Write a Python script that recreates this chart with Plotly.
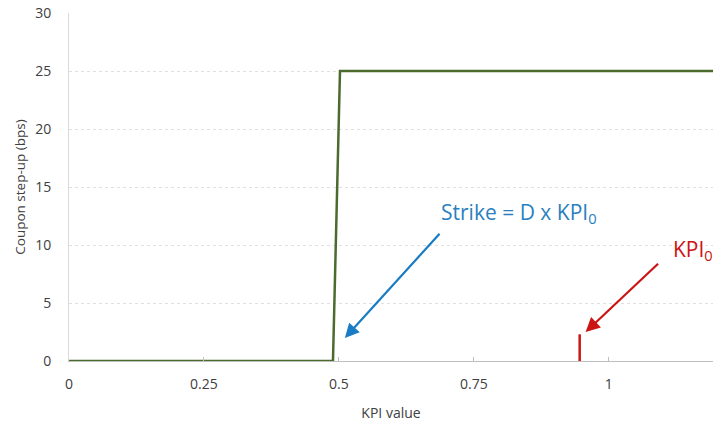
import plotly.graph_objects as go

# Data
step_x = [0, 0.489, 0.502, 1.2]
step_y = [0, 0, 25, 25]
kpi0_x = [0.946, 0.946]
kpi0_y = [0, 2.3]
x_ticks = [0, 0.25, 0.5, 0.75, 1]
x_tick_labels = ["0", "0.25", "0.5", "0.75", "1"]
y_ticks = [0, 5, 10, 15, 20, 25, 30]

FONT = "Open Sans"
fig = go.Figure()
fig.add_trace(go.Scatter(x=step_x, y=step_y, mode="lines",
                         line=dict(color="#4b6b2e", width=2.5), cliponaxis=False,
                         showlegend=False, hoverinfo="skip"))
fig.add_trace(go.Scatter(x=kpi0_x, y=kpi0_y, mode="lines",
                         line=dict(color="#cc1414", width=2.5),
                         showlegend=False, hoverinfo="skip"))

# arrows
fig.add_annotation(x=0.511, y=1.98, ax=0.689, ay=11.1, xref="x", yref="y",
                   axref="x", ayref="y", showarrow=True, arrowhead=2,
                   arrowsize=1.3, arrowwidth=2.2, arrowcolor="#1a7cc4", text="")
fig.add_annotation(x=0.957, y=2.5, ax=1.094, ay=8.5, xref="x", yref="y",
                   axref="x", ayref="y", showarrow=True, arrowhead=2,
                   arrowsize=1.3, arrowwidth=2.2, arrowcolor="#cc1414", text="")
fig.add_annotation(x=0.685, y=12.75, xref="x", yref="y", xanchor="left", yanchor="middle",
                   showarrow=False, text="Strike = D x KPI<sub>0</sub>",
                   font=dict(family=FONT, size=21, color="#2a7fc0"))
fig.add_annotation(x=1.115, y=9.6, xref="x", yref="y", xanchor="left", yanchor="middle",
                   showarrow=False, text="KPI<sub>0</sub>",
                   font=dict(family=FONT, size=21, color="#cc1414"))

fig.update_layout(
    width=713, height=422,
    margin=dict(l=69, r=0, t=13, b=61),
    paper_bgcolor="white", plot_bgcolor="white",
    font=dict(family=FONT, size=14, color="#404040"),
    showlegend=False,
)
fig.update_xaxes(range=[0, 1.193], tickvals=x_ticks, ticktext=x_tick_labels,
                 showgrid=False, zeroline=False, showline=True, linecolor="#bfbfbf",
                 linewidth=1, ticks="inside", ticklen=4, tickcolor="#bfbfbf",
                 ticklabelstandoff=10,
                 title=dict(text="KPI value", font=dict(size=14), standoff=17))
fig.update_yaxes(range=[0, 30], tickvals=y_ticks, showgrid=True,
                 gridcolor="#e0e0e0", griddash="dot", gridwidth=1,
                 zeroline=False, showline=True, linecolor="#d9d9d9", linewidth=1,
                 ticks="", ticklabelstandoff=14,
                 title=dict(text="Coupon step-up (bps)", font=dict(size=13.5), standoff=6))

fig.write_html("out.html")
